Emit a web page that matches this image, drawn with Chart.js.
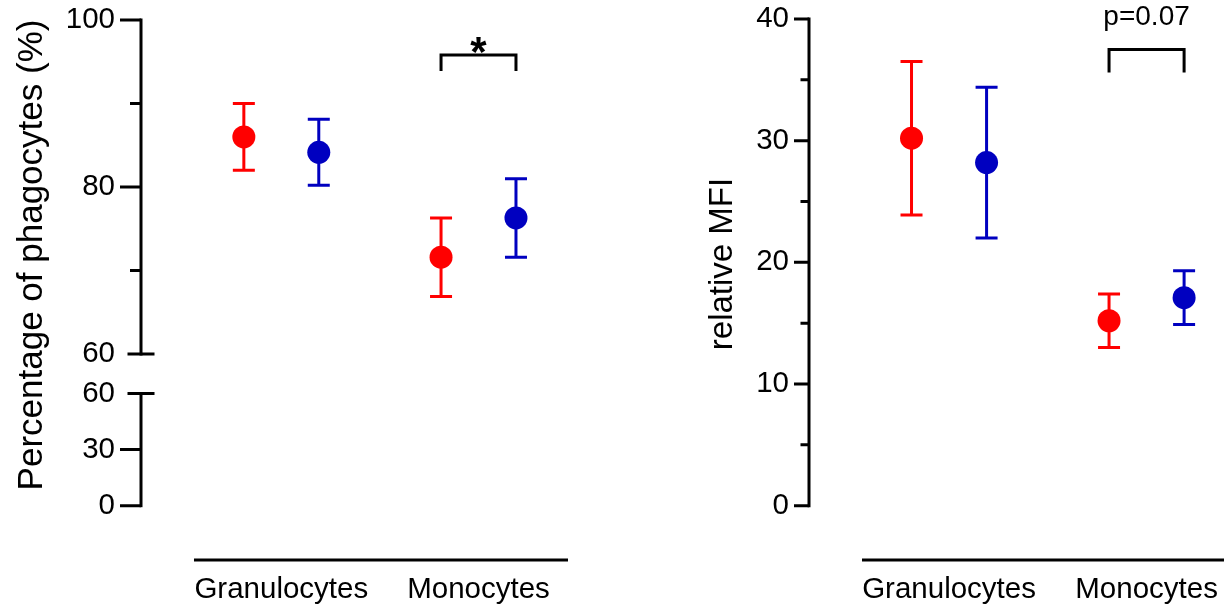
<!DOCTYPE html>
<html>
<head>
<meta charset="utf-8">
<title>Phagocytosis</title>
<script src="https://cdn.jsdelivr.net/npm/chart.js@4.4.1/dist/chart.umd.min.js"></script>
<style>
  html, body { margin: 0; padding: 0; background: #fff; }
  #wrap { position: relative; width: 1224px; height: 606px; overflow: hidden; }
  canvas { position: absolute; top: 0; }
  #phago { left: 0; }
  #mfi { left: 612px; }
</style>
</head>
<body>
<div id="wrap">
  <canvas id="phago" width="612" height="606"></canvas>
  <canvas id="mfi" width="612" height="606"></canvas>
</div>
<script>
// ---------------- data ----------------
const categories = ['Granulocytes', 'Monocytes'];

// Percentage of phagocytes (%): mean and SD for each cell type
const phagoRedMean  = [86.0, 71.6];
const phagoRedSd    = [4.0, 4.7];
const phagoBlueMean = [84.15, 76.3];
const phagoBlueSd   = [3.95, 4.7];

// relative MFI: mean and SD for each cell type
const mfiRedMean  = [30.2, 15.2];
const mfiRedSd    = [6.3, 2.2];
const mfiBlueMean = [28.2, 17.1];
const mfiBlueSd   = [6.2, 2.2];

// axis ticks
const phagoUpperTicks      = [60, 80, 100];
const phagoUpperMinorTicks = [70, 90];
const phagoLowerTicks      = [0, 30, 60];
const mfiTicks             = [0, 10, 20, 30, 40];
const mfiMinorTicks        = [5, 15, 25, 35];

// significance brackets (category, bracket top, leg end, label)
const phagoBracket = { category: 1, top: 95.8, legEnd: 93.9, label: '*' };
const mfiBracket   = { category: 1, top: 37.5, legEnd: 35.6, label: 'p=0.07' };

// ---------------- styling ----------------
const RED = '#ff0000';
const BLUE = '#0000c0';
const FONT = "'Liberation Sans', Arial, Helvetica, sans-serif";
const SERIES_OFFSET = 0.19;   // horizontal shift of each series from its category centre
const LINE = 3;

function points(means, side) {
  return means.map((m, i) => ({ x: i + side * SERIES_OFFSET, y: m }));
}

function series(means, sd, side, color, yAxisID) {
  return {
    data: points(means, side),
    sd: sd,
    yAxisID: yAxisID,
    backgroundColor: color,
    borderColor: color,
    borderWidth: 0,
    pointRadius: 11.5,
    pointHoverRadius: 11.5,
    showLine: false
  };
}

const fixedTicks = values => scale => { scale.ticks = values.map(v => ({ value: v })); };

// axis lines, tick marks, category baseline and axis title
const frame = {
  id: 'frame',
  beforeDatasetsDraw(chart, args, opts) {
    const ctx = chart.ctx;
    ctx.save();
    ctx.strokeStyle = '#000';
    ctx.lineWidth = LINE;
    opts.yAxes.forEach(a => {
      const s = chart.scales[a.id];
      const x = chart.chartArea.left;
      ctx.lineCap = 'square';
      ctx.beginPath();
      ctx.moveTo(x, s.getPixelForValue(a.from));
      ctx.lineTo(x, s.getPixelForValue(a.to));
      ctx.stroke();
      ctx.lineCap = 'butt';
      ctx.beginPath();
      a.major.forEach(v => { const y = s.getPixelForValue(v); ctx.moveTo(x - a.majorLen, y); ctx.lineTo(x, y); });
      (a.minor || []).forEach(v => { const y = s.getPixelForValue(v); ctx.moveTo(x - a.minorLen, y); ctx.lineTo(x, y); });
      (a.breaks || []).forEach(v => { const y = s.getPixelForValue(v); ctx.moveTo(x - a.breakLen, y); ctx.lineTo(x + a.breakLen, y); });
      ctx.stroke();
    });
    const xs = chart.scales.x;
    const yb = chart.chartArea.bottom;
    ctx.lineCap = 'butt';
    ctx.beginPath();
    ctx.moveTo(xs.getPixelForValue(opts.xLine[0]), yb);
    ctx.lineTo(xs.getPixelForValue(opts.xLine[1]), yb);
    ctx.stroke();
    ctx.restore();
  },
  afterDraw(chart, args, opts) {
    const ctx = chart.ctx;
    const t = opts.title;
    ctx.save();
    ctx.fillStyle = '#000';
    ctx.font = t.size + 'px ' + FONT;
    ctx.translate(t.x, t.y);
    ctx.rotate(-Math.PI / 2);
    ctx.textAlign = 'center';
    ctx.textBaseline = 'alphabetic';
    ctx.fillText(t.text, 0, 0);
    ctx.restore();
  }
};

// SD whiskers with caps, drawn under the mean markers
const errorBars = {
  id: 'errorBars',
  beforeDatasetsDraw(chart, args, opts) {
    const ctx = chart.ctx;
    chart.data.datasets.forEach((ds, di) => {
      const meta = chart.getDatasetMeta(di);
      const xs = chart.scales[meta.xAxisID];
      const ys = chart.scales[meta.yAxisID];
      ctx.save();
      ctx.strokeStyle = ds.borderColor;
      ctx.lineWidth = LINE;
      ctx.lineCap = 'butt';
      ds.data.forEach((p, i) => {
        const x = xs.getPixelForValue(p.x);
        const top = ys.getPixelForValue(p.y + ds.sd[i]);
        const bot = ys.getPixelForValue(p.y - ds.sd[i]);
        ctx.beginPath();
        ctx.moveTo(x, top); ctx.lineTo(x, bot);
        ctx.moveTo(x - opts.cap, top); ctx.lineTo(x + opts.cap, top);
        ctx.moveTo(x - opts.cap, bot); ctx.lineTo(x + opts.cap, bot);
        ctx.stroke();
      });
      ctx.restore();
    });
  }
};

// comparison bracket with its label
const bracket = {
  id: 'bracket',
  afterDatasetsDraw(chart, args, opts) {
    const b = opts.data;
    const ctx = chart.ctx;
    const xs = chart.scales.x;
    const ys = chart.scales[opts.yAxisID];
    const xl = xs.getPixelForValue(b.category - SERIES_OFFSET);
    const xr = xs.getPixelForValue(b.category + SERIES_OFFSET);
    const yt = ys.getPixelForValue(b.top);
    const yl = ys.getPixelForValue(b.legEnd);
    ctx.save();
    ctx.strokeStyle = '#000';
    ctx.lineWidth = LINE;
    ctx.lineCap = 'butt';
    ctx.lineJoin = 'miter';
    ctx.beginPath();
    ctx.moveTo(xl, yl); ctx.lineTo(xl, yt); ctx.lineTo(xr, yt); ctx.lineTo(xr, yl);
    ctx.stroke();
    ctx.fillStyle = '#000';
    ctx.font = opts.font;
    ctx.textAlign = 'center';
    ctx.textBaseline = 'alphabetic';
    const m = ctx.measureText(b.label);
    ctx.fillText(b.label, (xl + xr) / 2, yt - opts.gap - m.actualBoundingBoxDescent);
    ctx.restore();
  }
};

const tickFont = { family: FONT, size: 29.5 };

function xScale(min, max) {
  return {
    type: 'linear',
    min: min,
    max: max,
    grid: { display: false, drawTicks: false },
    border: { display: false },
    afterBuildTicks: fixedTicks(categories.map((c, i) => i)),
    afterFit: s => { s.height = 46; s.paddingLeft = 0; s.paddingRight = 0; },
    ticks: {
      callback: v => categories[v] ?? '',
      font: tickFont, color: '#000', padding: 12,
      maxRotation: 0, minRotation: 0, autoSkip: false
    }
  };
}

function yScale(min, max, values, width, padding, extra) {
  return Object.assign({
    type: 'linear',
    position: 'left',
    min: min,
    max: max,
    grid: { display: false, drawTicks: false },
    border: { display: false },
    afterBuildTicks: fixedTicks(values),
    afterFit: s => { s.width = width; s.paddingTop = 0; s.paddingBottom = 0; },
    ticks: { font: tickFont, color: '#000', padding: padding }
  }, extra || {});
}

const common = {
  responsive: false,
  animation: false,
  events: []
};

// ---------------- left panel: percentage of phagocytes, broken axis ----------------
new Chart(document.getElementById('phago'), {
  type: 'scatter',
  data: {
    datasets: [
      series(phagoRedMean, phagoRedSd, -1, RED, 'y'),
      series(phagoBlueMean, phagoBlueSd, 1, BLUE, 'y')
    ]
  },
  options: Object.assign({}, common, {
    layout: { autoPadding: false, padding: { top: 20, right: 44, bottom: 0, left: 0 } },
    scales: {
      x: xScale(-0.7115, 1.4538),
      y: yScale(57.635, 100, phagoUpperTicks, 141, 26, { stack: 'phago', stackWeight: 353.75, weight: 1 }),
      y2: yScale(-29.04, 70.56, phagoLowerTicks, 141, 26, { stack: 'phago', stackWeight: 186.25, weight: 0 })
    },
    plugins: {
      legend: { display: false },
      tooltip: { enabled: false },
      frame: {
        yAxes: [
          { id: 'y', from: 60, to: 100, major: [80, 100], minor: phagoUpperMinorTicks, breaks: [60],
            majorLen: 21, minorLen: 11, breakLen: 13.5 },
          { id: 'y2', from: 0, to: 60, major: [0, 30], breaks: [60],
            majorLen: 21, minorLen: 11, breakLen: 13.5 }
        ],
        xLine: [-0.4428, 1.4538],
        title: { text: 'Percentage of phagocytes (%)', size: 35, x: 42, y: 255 }
      },
      errorBars: { cap: 11 },
      bracket: { data: phagoBracket, yAxisID: 'y', font: 'bold 42px ' + FONT, gap: 2 }
    }
  }),
  plugins: [frame, errorBars, bracket]
});

// ---------------- right panel: relative MFI ----------------
new Chart(document.getElementById('mfi'), {
  type: 'scatter',
  data: {
    datasets: [
      series(mfiRedMean, mfiRedSd, -1, RED, 'y'),
      series(mfiBlueMean, mfiBlueSd, 1, BLUE, 'y')
    ]
  },
  options: Object.assign({}, common, {
    layout: { autoPadding: false, padding: { top: 19, right: 0, bottom: 0, left: 0 } },
    scales: {
      x: xScale(-0.709, 1.392),
      y: yScale(-4.463, 40, mfiTicks, 197, 20)
    },
    plugins: {
      legend: { display: false },
      tooltip: { enabled: false },
      frame: {
        yAxes: [
          { id: 'y', from: 0, to: 40, major: mfiTicks, minor: mfiMinorTicks,
            majorLen: 15, minorLen: 8.5 }
        ],
        xLine: [-0.4407, 1.392],
        title: { text: 'relative MFI', size: 33, x: 120, y: 264 }
      },
      errorBars: { cap: 11 },
      bracket: { data: mfiBracket, yAxisID: 'y', font: '28px ' + FONT, gap: 18 }
    }
  }),
  plugins: [frame, errorBars, bracket]
});
</script>
</body>
</html>
